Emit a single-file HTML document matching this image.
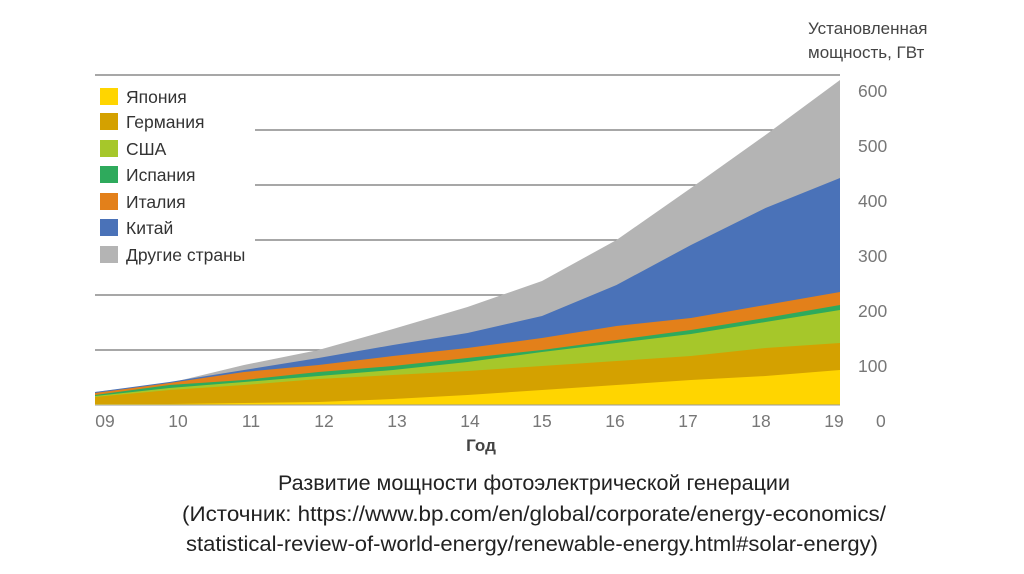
<!DOCTYPE html>
<html><head><meta charset="utf-8"><style>
body{margin:0;background:#fff;width:1024px;height:574px;overflow:hidden;font-family:"Liberation Sans","DejaVu Sans",sans-serif}
</style></head><body>
<svg width="1024" height="574" xmlns="http://www.w3.org/2000/svg" style="position:absolute;left:0;top:0">
<g stroke="#8a8a8a" stroke-width="1.5">
<line x1="95" y1="75" x2="840" y2="75"/>
<line x1="255" y1="130" x2="840" y2="130"/>
<line x1="255" y1="185" x2="840" y2="185"/>
<line x1="255" y1="240" x2="840" y2="240"/>
<line x1="95" y1="295" x2="840" y2="295"/>
<line x1="95" y1="350" x2="840" y2="350"/>
</g>
<polygon fill="#b4b4b4" points="95,392 169.5,383 244,365 318.5,350 393,329 467.5,307 542,281 616.5,240 691,188 765.5,135 840,80 840,405 95,405"/>
<polygon fill="#4a72b8" points="95,392 169.5,382 244,370 318.5,358 393,345 467.5,333 542,316 616.5,285 691,245 765.5,208 840,178 840,405 95,405"/>
<polygon fill="#e3801a" points="95,393 169.5,383 244,372 318.5,365 393,356 467.5,348 542,338 616.5,326 691,318 765.5,305 840,292 840,405 95,405"/>
<polygon fill="#2eaa5c" points="95,395 169.5,385 244,380 318.5,372 393,366 467.5,358 542,350 616.5,340 691,330 765.5,318 840,305 840,405 95,405"/>
<polygon fill="#a6c72a" points="95,396 169.5,388 244,382 318.5,376 393,370 467.5,362 542,352 616.5,343 691,334 765.5,322 840,310 840,405 95,405"/>
<polygon fill="#d4a100" points="95,397 169.5,390 244,385 318.5,379 393,375 467.5,371 542,366 616.5,361 691,356 765.5,348 840,343 840,405 95,405"/>
<polygon fill="#ffd500" points="95,404 169.5,404 244,403 318.5,402 393,399 467.5,395 542,390 616.5,385 691,380 765.5,376 840,370 840,405 95,405"/>
<line x1="95" y1="405" x2="840" y2="405" stroke="#999" stroke-width="1"/>
<g>
<rect x="100" y="88" width="18" height="17" fill="#ffd500"/>
<rect x="100" y="113" width="18" height="17" fill="#d4a100"/>
<rect x="100" y="140" width="18" height="17" fill="#a6c72a"/>
<rect x="100" y="166" width="18" height="17" fill="#2eaa5c"/>
<rect x="100" y="193" width="18" height="17" fill="#e3801a"/>
<rect x="100" y="219" width="18" height="17" fill="#4a72b8"/>
<rect x="100" y="246" width="18" height="17" fill="#b4b4b4"/>
</g>
<g font-size="17.5" fill="#333">
<text x="126" y="103">Япония</text>
<text x="126" y="128">Германия</text>
<text x="126" y="155">США</text>
<text x="126" y="181">Испания</text>
<text x="126" y="208">Италия</text>
<text x="126" y="234">Китай</text>
<text x="126" y="261">Другие страны</text>
</g>
<g font-size="17.5" fill="#777">
<text x="858" y="97">600</text><text x="858" y="152">500</text><text x="858" y="207">400</text>
<text x="858" y="262">300</text><text x="858" y="317">200</text><text x="858" y="372">100</text>
<text x="876" y="427">0</text>
</g>
<g font-size="17.5" fill="#777" text-anchor="middle">
<text x="105" y="427">09</text><text x="178" y="427">10</text><text x="251" y="427">11</text>
<text x="324" y="427">12</text><text x="397" y="427">13</text><text x="470" y="427">14</text>
<text x="542" y="427">15</text><text x="615" y="427">16</text><text x="688" y="427">17</text>
<text x="761" y="427">18</text><text x="834" y="427">19</text>
</g>
<text x="481" y="451" font-size="17" fill="#444" text-anchor="middle" font-weight="bold">Год</text>
<text x="808" y="34" font-size="17" fill="#444">Установленная</text>
<text x="808" y="58" font-size="17" fill="#444">мощность, ГВт</text>
<g font-size="21.5" fill="#222">
<text x="278" y="490" textLength="512" lengthAdjust="spacingAndGlyphs">Развитие мощности фотоэлектрической генерации</text>
<text x="182" y="521" textLength="704" lengthAdjust="spacingAndGlyphs">(Источник: https://www.bp.com/en/global/corporate/energy-economics/</text>
<text x="186" y="551" textLength="692" lengthAdjust="spacingAndGlyphs">statistical-review-of-world-energy/renewable-energy.html#solar-energy)</text>
</g>
</svg>
</body></html>
